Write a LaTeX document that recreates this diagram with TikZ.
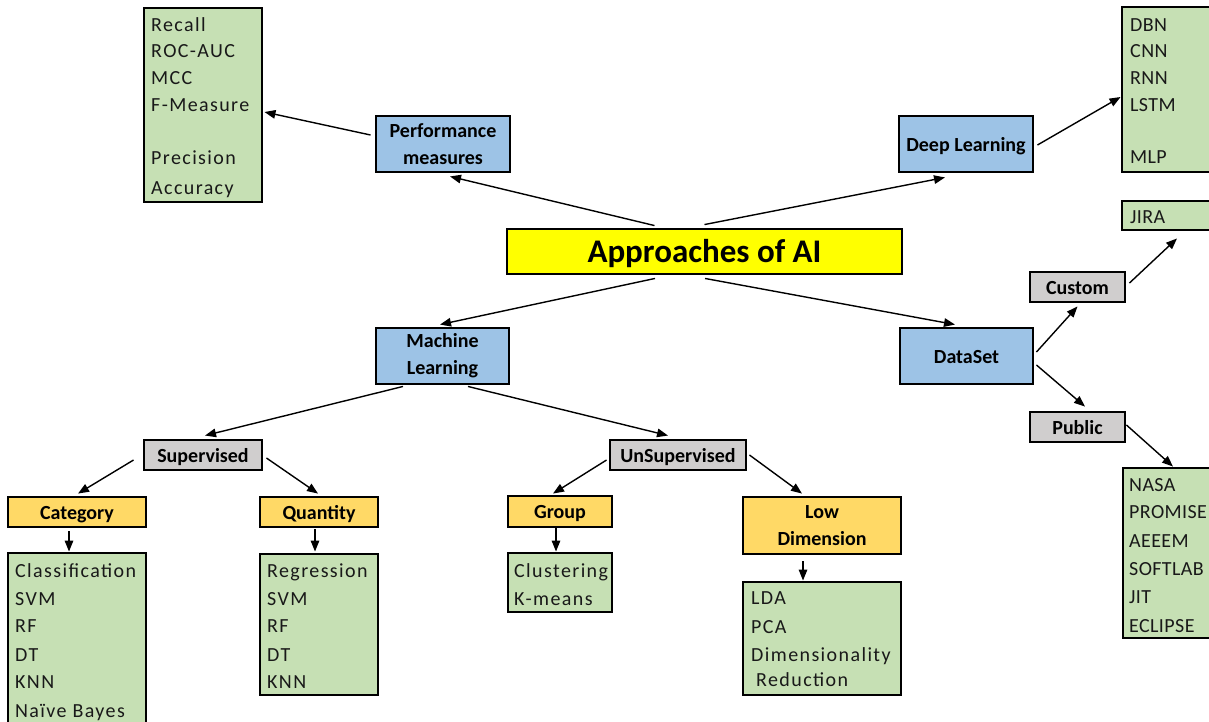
\documentclass[tikz,border=0pt]{standalone}
\usepackage{fontspec}
\setmainfont{Carlito}
\newfontfamily\listfont[LetterSpace=7]{Carlito}
\newfontfamily\capsfont[LetterSpace=2]{Carlito}
\usetikzlibrary{calc,arrows.meta}
\definecolor{gfill}{HTML}{C6E0B4}
\definecolor{bfill}{HTML}{9DC3E6}
\definecolor{grfill}{HTML}{D0CECE}
\definecolor{ofill}{HTML}{FFD966}
\definecolor{yfill}{HTML}{FFFF00}
\tikzset{
  box/.style={draw=black, line width=2.9pt, inner sep=0pt, anchor=center},
  lbl/.style={font=\fontsize{20}{27}\selectfont\bfseries, align=center},
  single/.style={text height=17pt, text depth=3pt},
  greenbox/.style={box, fill=gfill},
  bluebox/.style={box, fill=bfill, lbl},
  graybox/.style={box, fill=grfill, lbl},
  orangebox/.style={box, fill=ofill, lbl},
  item/.style={anchor=base west, inner sep=0pt, font=\listfont\fontsize{20}{24}\selectfont, text=black!90},
  capitem/.style={item, font=\capsfont\fontsize{20}{24}\selectfont},
  arr/.style={line width=1.4pt, -{Triangle[length=11pt,width=8.5pt]}},
}
% place a box by its corners
\newcommand{\bx}[6]{\node[#1, minimum width={(#5-#3)*1pt}, minimum height={(#6-#4)*1pt}] (#2) at ({(#3+#5)/2},{(#4+#6)/2})}
\begin{document}
\begin{tikzpicture}[x=1pt,y=-1pt]
\useasboundingbox (0,0) rectangle (1209,721);
\clip (0,0) rectangle (1209,721);
\fill[white] (0,0) rectangle (1209,721);

% main
\bx{box, fill=yfill, font=\fontsize{33}{36}\selectfont\bfseries, text height=25pt, text depth=3pt}{ai}{507}{229}{902}{274}{Approaches of AI};
\bx{bluebox}{pm}{376}{116}{510}{172}{Performance\\measures};
\bx{bluebox, single}{dl}{899}{116}{1033}{172}{Deep Learning};
\bx{bluebox}{ml}{376}{328}{509}{384}{Machine\\Learning};
\bx{bluebox, single}{ds}{900}{328}{1033}{384}{DataSet};
\bx{graybox, single}{cu}{1030}{272}{1125}{302}{Custom};
\bx{graybox, single}{pu}{1030}{412}{1125}{442}{Public};
\bx{graybox, single}{sup}{144}{440}{262}{470}{Supervised};
\bx{graybox, single}{uns}{610}{440}{746}{470}{UnSupervised};
\bx{orangebox, single}{cat}{8}{497}{146}{527}{Category};
\bx{orangebox, single}{qty}{260}{497}{378}{527}{Quantity};
\bx{orangebox, single}{grp}{508}{496}{612}{527}{Group};
\bx{orangebox}{low}{743}{497}{901}{554}{Low\\Dimension};

% green lists
\bx{greenbox}{pmL}{144}{8}{262}{202}{};
\bx{greenbox}{dlL}{1122}{7}{1240}{172}{};
\bx{greenbox}{jira}{1122}{201}{1240}{230}{};
\bx{greenbox}{puL}{1123}{468}{1240}{638}{};
\bx{greenbox}{catL}{8}{553}{146}{745}{};
\bx{greenbox}{qtyL}{260}{554}{378}{695}{};
\bx{greenbox}{grpL}{508}{553}{612}{612}{};
\bx{greenbox}{lowL}{743}{582}{901}{695}{};

\foreach \t/\y [count=\i] in {Recall/31,ROC-AUC/57,MCC/84,F-Measure/111,Precision/164,Accuracy/194}
  \node[item] (pmt\i) at (151,\y) {\t};
\foreach \t/\y [count=\i] in {DBN/31,CNN/57,RNN/84,LSTM/111,MLP/163}
  \node[capitem] (dlt\i) at (1130,\y) {\t};
\node[capitem] (jirat) at (1130,223) {JIRA};
\foreach \t/\y [count=\i] in {NASA/491,PROMISE/518,AEEEM/547,SOFTLAB/575,JIT/603,ECLIPSE/632}
  \node[capitem] (put\i) at (1129,\y) {\t};
\foreach \t/\y [count=\i] in {Classification/577,SVM/605,RF/632,DT/661,KNN/688,Naïve Bayes/717}
  \node[item] (catt\i) at (15,\y) {\t};
\foreach \t/\y [count=\i] in {Regression/577,SVM/605,RF/632,DT/661,KNN/688}
  \node[item] (qtyt\i) at (267,\y) {\t};
\foreach \t/\y [count=\i] in {Clustering/577,K-means/605}
  \node[item] (grpt\i) at (514,\y) {\t};
\foreach \t/\y [count=\i] in {LDA/604,PCA/633,Dimensionality/661}
  \node[item] (lowt\i) at (751,\y) {\t};
\node[item] (lowt4) at (756,686) {Reduction};

% connectors
\draw[arr] ($(ai.north)+(-50,-2)$) -- ($(pm.south)+(7,3)$);
\draw[arr] ($(ai.north)+(0,-3)$) -- ($(dl.south)+(-21,4)$);
\draw[arr] ($(pm.west)+(-4,-9)$) -- ($(pmL.east)+(1,7)$);
\draw[arr] ($(dl.east)+(3,1)$) -- ($(dlL.west)+(0,7.5)$);
\draw[arr] ($(ai.south)+(-49.5,3)$) -- ($(ml.north)+(-2.5,-2)$);
\draw[arr] ($(ai.south)+(0.5,3)$) -- ($(ds.north)+(-11.5,-2)$);
\draw[arr] ($(ds.east)+(2,-4)$) -- ($(cu.south)+(0,3)$);
\draw[arr] ($(ds.east)+(2,9)$) -- ($(pu.north)+(7.5,-4)$);
\draw[arr] ($(cu.east)+(3,-4)$) -- ($(jira.south)+(-4,7)$);
\draw[arr] ($(pu.east)+(0,-2)$) -- ($(puL.north)+(-8.5,0)$);
\draw[arr] ($(ml.south)+(-39.5,1)$) -- ($(sup.north)+(2,-3)$);
\draw[arr] ($(ml.south)+(25.5,1)$) -- ($(uns.north)+(-10,-3)$);
\draw[arr] ($(sup.west)+(-9,5)$) -- ($(cat.north)+(1,-2)$);
\draw[arr] ($(sup.east)+(3,3)$) -- ($(qty.north)+(-1,-2)$);
\draw[arr] ($(cat.south)+(-8,3)$) -- ($(catL.north)+(-8,0)$);
\draw[arr] ($(qty.south)+(-4,1)$) -- ($(qtyL.north)+(-4,-1)$);
\draw[arr] ($(uns.west)+(-2,5)$) -- ($(grp.north)+(-7,-1)$);
\draw[arr] ($(uns.east)+(2,0)$) -- ($(low.north)+(-20,-2)$);
\draw[arr] ($(grp.south)+(-4,0)$) -- ($(grpL.north)+(-4,0)$);
\draw[arr] ($(low.south)+(-19,6)$) -- ($(lowL.north)+(-19,0)$);
\end{tikzpicture}
\end{document}
